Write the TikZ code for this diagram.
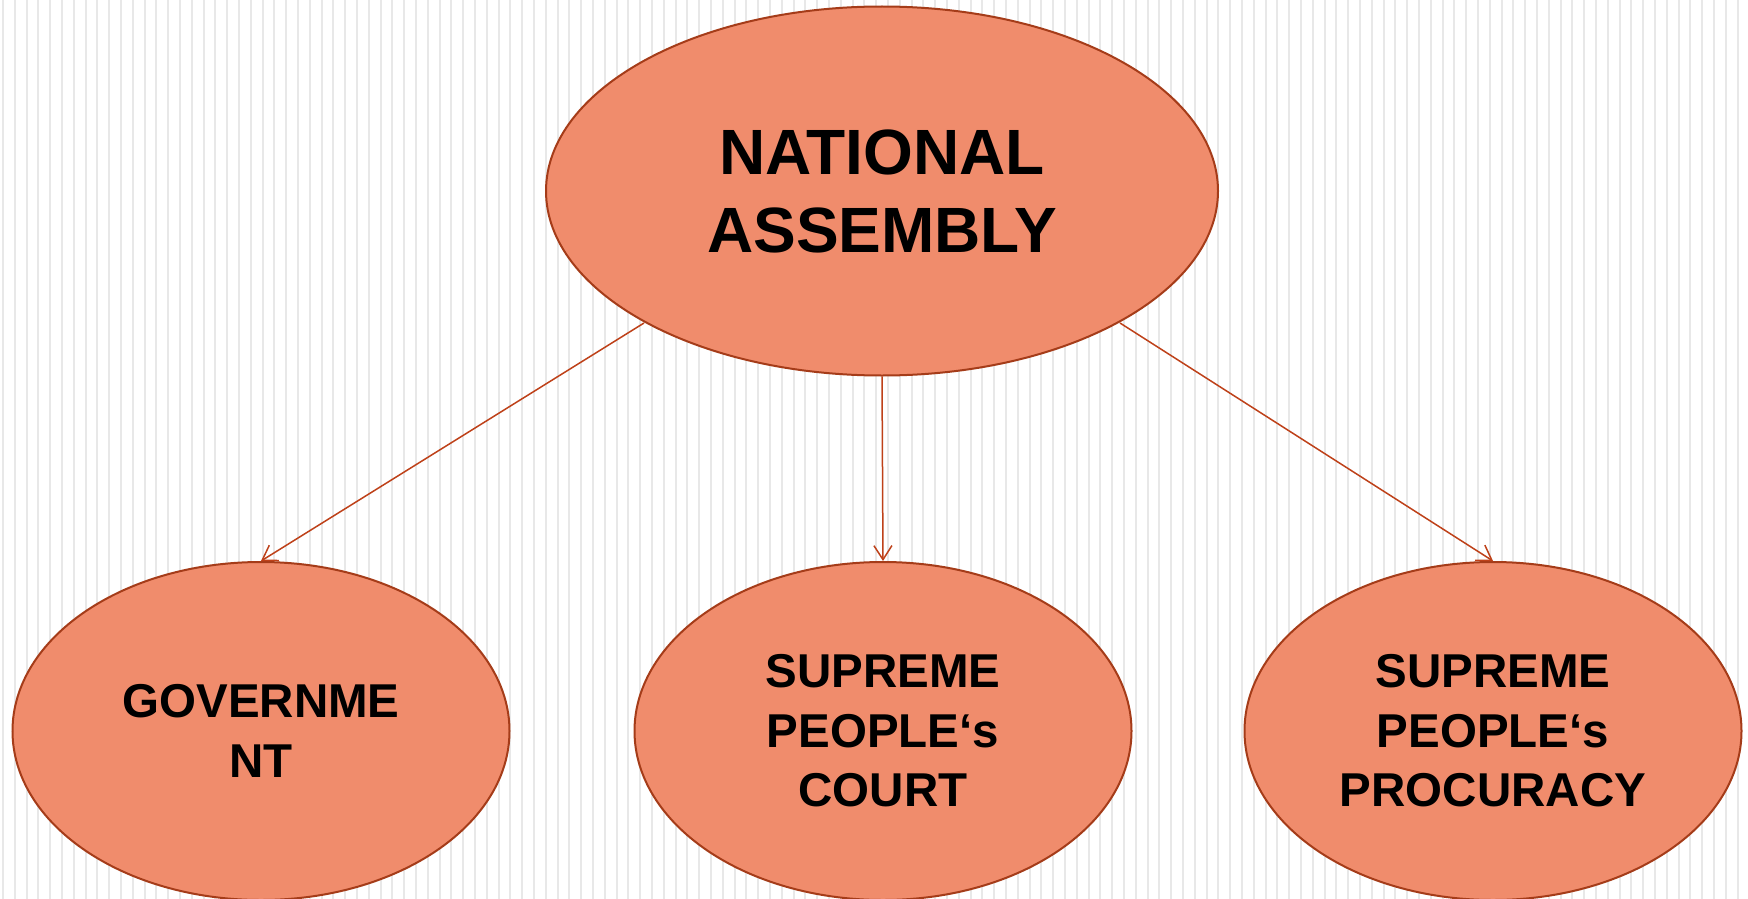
\documentclass[tikz,border=0pt]{standalone}
\usepackage{fontspec}
\setmainfont{Liberation Sans}
\usetikzlibrary{arrows.meta,shapes.geometric}
\definecolor{ovfill}{RGB}{240,140,108}
\definecolor{ovline}{RGB}{165,60,25}
\definecolor{arline}{RGB}{190,65,25}
\definecolor{stripe}{RGB}{232,232,232}
\tikzset{
  oval/.style={ellipse, draw=ovline, line width=2pt, fill=ovfill, inner sep=0pt, align=center, font=\bfseries},
  conn/.style={draw=arline, line width=1.5pt, -{Straight Barb[length=14pt,width=18pt,line width=1.5pt]}},
}
\begin{document}
\begin{tikzpicture}[x=1pt,y=-1pt]
\useasboundingbox (0,0) rectangle (1748,899);
\fill[white] (0,0) rectangle (1748,899);
\foreach \i in {0,...,148} {
  \fill[stripe] ({2+\i*11.8},0) rectangle ({4+\i*11.8},899);
}
\node[oval, minimum width=672, minimum height=369, font=\fontsize{64}{78}\selectfont\bfseries] (na) at (882,191) {NATIONAL\\ASSEMBLY};
\node[oval, minimum width=497, minimum height=338, font=\fontsize{47.5}{59.6}\selectfont\bfseries] (gov) at (261,731) {GOVERNME\\NT};
\node[oval, minimum width=497, minimum height=338, font=\fontsize{47.5}{59.6}\selectfont\bfseries] (spc) at (883,731) {SUPREME\\PEOPLE‘s\\COURT};
\node[oval, minimum width=497, minimum height=338, font=\fontsize{47.5}{59.6}\selectfont\bfseries] (spp) at (1493,731) {SUPREME\\PEOPLE‘s\\PROCURACY};
\coordinate (a1) at (644,323);
\coordinate (a2) at (1120,323);
\draw[conn] (a1) -- (gov.north);
\draw[conn] (na.south) -- (spc.north);
\draw[conn] (a2) -- (spp.north);
\end{tikzpicture}
\end{document}
